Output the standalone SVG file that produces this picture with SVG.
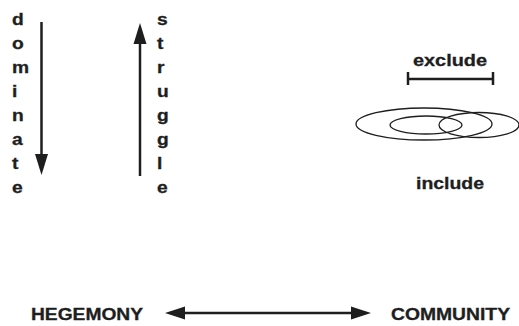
<svg xmlns="http://www.w3.org/2000/svg" width="519" height="326" viewBox="0 0 519 326">
<style>
text{font-family:"Liberation Sans",Arial,sans-serif;font-weight:bold;font-size:16px;fill:#1e1e1e;stroke:#1e1e1e;stroke-width:0.3}
.ln{stroke:#1e1e1e;stroke-width:2.5;fill:none}
.el{stroke:#1e1e1e;stroke-width:1.3;fill:none}
.ah{fill:#1e1e1e}
</style>
<rect width="519" height="326" fill="#fff"/>
<g id="dominate" transform="translate(12,0) scale(1.2,1)">
<text x="0" y="25">d</text><text x="0" y="49">o</text><text x="0" y="73">m</text><text x="0" y="97">i</text>
<text x="0" y="121">n</text><text x="0" y="145">a</text><text x="0" y="169">t</text><text x="0" y="193">e</text>
</g>
<g id="struggle" transform="translate(157,0) scale(1.2,1)">
<text x="0" y="25">s</text><text x="0" y="49">t</text><text x="0" y="73">r</text><text x="0" y="97">u</text>
<text x="0" y="121">g</text><text x="0" y="145">g</text><text x="0" y="169">l</text><text x="0" y="193">e</text>
</g>
<g id="exclude">
<text x="413" y="66" textLength="74" lengthAdjust="spacingAndGlyphs">exclude</text>
<line class="ln" x1="407" y1="79" x2="494" y2="79"/>
<line class="ln" x1="408" y1="72" x2="408" y2="85"/>
<line class="ln" x1="493" y1="72" x2="493" y2="85"/>
</g>
<g id="circles">
<ellipse class="el" cx="424" cy="124" rx="68" ry="16"/>
<ellipse class="el" cx="426" cy="125" rx="36" ry="9"/>
<ellipse class="el" cx="479" cy="125" rx="40" ry="12.5"/>
</g>
<g id="include"><text x="416" y="189" textLength="68" lengthAdjust="spacingAndGlyphs">include</text></g>
<g id="hegemony"><text x="31" y="320" textLength="112" lengthAdjust="spacingAndGlyphs">HEGEMONY</text></g>
<g id="community"><text x="391" y="320" textLength="119" lengthAdjust="spacingAndGlyphs">COMMUNITY</text></g>
<g id="connectors">
<line class="ln" x1="41.5" y1="22" x2="41.5" y2="158"/>
<polygon class="ah" points="35,154 48,154 41.5,175"/>
<line class="ln" x1="140" y1="40" x2="140" y2="176"/>
<polygon class="ah" points="133.5,44 146.5,44 140,23"/>
<line class="ln" x1="180" y1="313" x2="352" y2="313"/>
<polygon class="ah" points="165,313 185,306.5 185,319.5"/>
<polygon class="ah" points="371,313 351,306.5 351,319.5"/>
</g>
</svg>
